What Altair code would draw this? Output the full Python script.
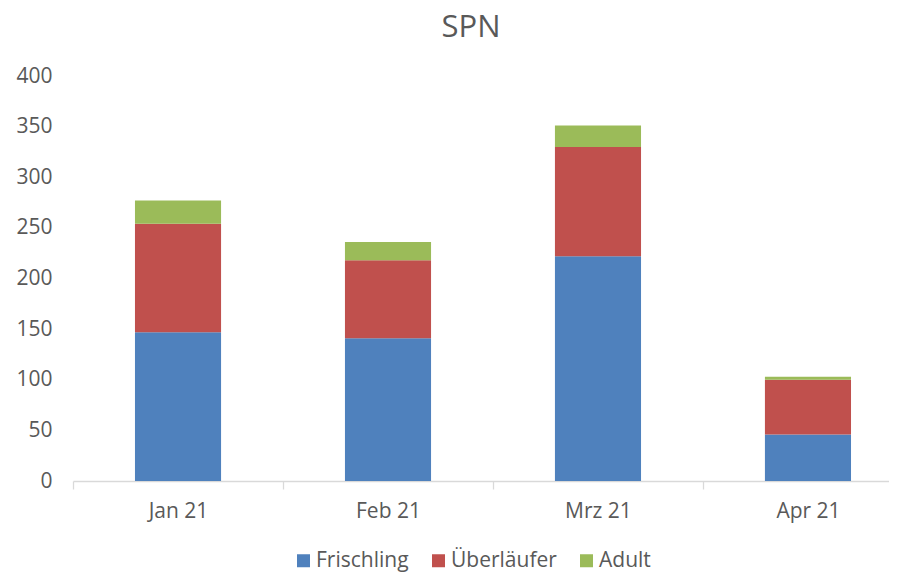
import altair as alt
import pandas as pd

months = ["Jan 21", "Feb 21", "Mrz 21", "Apr 21"]
series = ["Frischling", "Überläufer", "Adult"]
frischling = [147, 141, 222, 46]
ueberlaeufer = [107, 77, 108, 54]
adult = [23, 18, 21, 3]
colors = ["#4f81bd", "#c0504d", "#9bbb59"]

rows = []
for i, m in enumerate(months):
    for k, (name, vals) in enumerate(zip(series, [frischling, ueberlaeufer, adult])):
        rows.append({"Monat": m, "Klasse": name, "Wert": vals[i], "ord": k})
df = pd.DataFrame(rows)

FONT = "Open Sans"
TXT = "#595959"

chart = alt.Chart(df).mark_bar().encode(
    x=alt.X("Monat:N", sort=months, title=None,
            scale=alt.Scale(paddingInner=0.59, paddingOuter=0.238, align=0.62),
            axis=alt.Axis(labelAngle=0, labelFont=FONT, labelFontSize=21, labelColor=TXT,
                          domainColor="#d9d9d9", domainWidth=1.3, tickColor="#d9d9d9",
                          tickWidth=1.3, tickSize=8, tickOffset=-105, labelOffset=105,
                          labelPadding=11, grid=False)),
    y=alt.Y("Wert:Q", stack="zero", title=None,
            scale=alt.Scale(domain=[0, 400], nice=False),
            axis=alt.Axis(values=[0, 50, 100, 150, 200, 250, 300, 350, 400],
                          labelFont=FONT, labelFontSize=21, labelColor=TXT,
                          domain=False, ticks=False, grid=False, labelPadding=21)),
    color=alt.Color("Klasse:N", sort=series,
                    scale=alt.Scale(domain=series, range=colors),
                    legend=alt.Legend(title=None, orient="none", direction="horizontal",
                                      legendX=220, legendY=474,
                                      symbolType="square", symbolSize=169,
                                      symbolStrokeWidth=0, symbolOpacity=1,
                                      labelFont=FONT, labelFontSize=21, labelColor=TXT,
                                      labelOffset=2, columnPadding=19)),
    order=alt.Order("ord:Q", sort="ascending"),
).properties(
    width=816,
    height=405,
    padding={"left": 65, "top": 68, "right": 0, "bottom": 92},
    autosize=alt.AutoSizeParams(type="none"),
    title=alt.TitleParams("SPN", font=FONT, fontSize=31, fontWeight="normal",
                          color=TXT, anchor="middle", dx=-10, offset=21),
).configure_view(stroke=None)

chart.save("out.html", embed_options={"renderer": "svg", "actions": False})
